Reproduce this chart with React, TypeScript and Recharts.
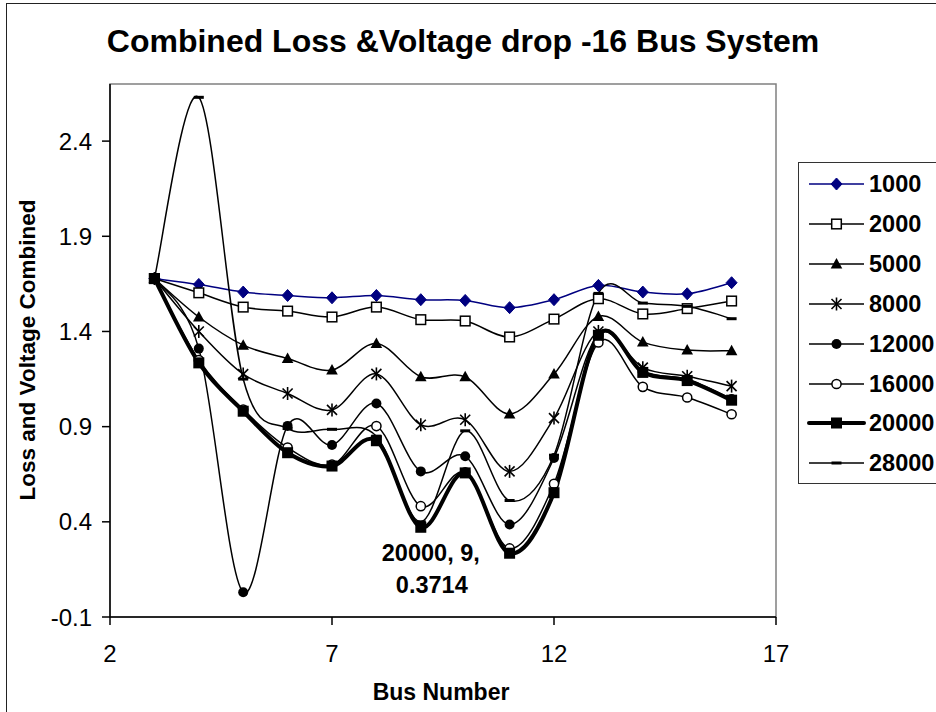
import React from 'react';
import { LineChart, Line, XAxis, YAxis, ReferenceArea, Legend, LabelList, Label } from 'recharts';

const FONT = '"Liberation Sans", Arial, Helvetica, sans-serif';

const BUSES = [3, 4, 5, 6, 7, 8, 9, 10, 11, 12, 13, 14, 15, 16];
const X_TICKS = [2, 7, 12, 17];
const Y_TICKS = [-0.1, 0.4, 0.9, 1.4, 1.9, 2.4];

const S1000 = [1.678, 1.647, 1.607, 1.589, 1.577, 1.589, 1.567, 1.563, 1.525, 1.567, 1.642, 1.607, 1.598, 1.656];
const S2000 = [1.678, 1.603, 1.528, 1.507, 1.476, 1.528, 1.462, 1.455, 1.371, 1.465, 1.572, 1.492, 1.52, 1.56];
const S5000 = [1.678, 1.476, 1.328, 1.258, 1.197, 1.337, 1.162, 1.162, 0.967, 1.176, 1.479, 1.344, 1.302, 1.299];
const S8000 = [1.678, 1.4, 1.176, 1.074, 0.988, 1.177, 0.91, 0.936, 0.665, 0.945, 1.4, 1.21, 1.165, 1.113];
const S12000 = [1.678, 1.31, 0.03, 0.904, 0.804, 1.022, 0.665, 0.744, 0.386, 0.735, 1.385, 1.19, 1.15, 1.045];
const S16000 = [1.678, 1.25, 0.99, 0.79, 0.7, 0.903, 0.482, 0.66, 0.26, 0.6, 1.342, 1.109, 1.053, 0.965];
const S20000 = [1.678, 1.235, 0.981, 0.763, 0.693, 0.826, 0.3714, 0.657, 0.235, 0.553, 1.38, 1.185, 1.142, 1.039];
const S28000 = [1.678, 2.63, 1.15, 0.89, 0.886, 0.85, 0.4, 0.878, 0.512, 0.75, 1.6, 1.549, 1.532, 1.467];

const LABEL_SERIES = '20000';
const LABEL_BUS = 9;

type Kind = 'diamond' | 'openSquare' | 'triangle' | 'star' | 'dot' | 'openCircle' | 'square' | 'dash';

const SERIES: { key: string; name: string; values: number[]; color: string; width: number; marker: Kind }[] = [
  { key: 's1000', name: '1000', values: S1000, color: '#000080', width: 1.5, marker: 'diamond' },
  { key: 's2000', name: '2000', values: S2000, color: '#000000', width: 1.5, marker: 'openSquare' },
  { key: 's5000', name: '5000', values: S5000, color: '#000000', width: 1.5, marker: 'triangle' },
  { key: 's8000', name: '8000', values: S8000, color: '#000000', width: 1.5, marker: 'star' },
  { key: 's12000', name: '12000', values: S12000, color: '#000000', width: 1.5, marker: 'dot' },
  { key: 's16000', name: '16000', values: S16000, color: '#000000', width: 1.5, marker: 'openCircle' },
  { key: 's20000', name: '20000', values: S20000, color: '#000000', width: 4, marker: 'square' },
  { key: 's28000', name: '28000', values: S28000, color: '#000000', width: 1.5, marker: 'dash' },
];

const data = BUSES.map((b, i) => {
  const row: any = { bus: b };
  SERIES.forEach((s) => {
    row[s.key] = s.values[i];
  });
  return row;
});

// Excel-like smoothed line (Catmull-Rom style Bezier)
function excelCurve(context: any) {
  let pts: [number, number][] = [];
  return {
    areaStart() {},
    areaEnd() {},
    lineStart() {
      pts = [];
    },
    point(x: number, y: number) {
      pts.push([+x, +y]);
    },
    lineEnd() {
      if (!pts.length) return;
      context.moveTo(pts[0][0], pts[0][1]);
      if (pts.length === 1) return;
      for (let i = 0; i < pts.length - 1; i++) {
        const p0 = pts[i - 1] || pts[i];
        const p1 = pts[i];
        const p2 = pts[i + 1];
        const p3 = pts[i + 2] || pts[i + 1];
        const c1x = p1[0] + (p2[0] - p0[0]) / 6;
        const c1y = p1[1] + (p2[1] - p0[1]) / 6;
        const c2x = p2[0] - (p3[0] - p1[0]) / 6;
        const c2y = p2[1] - (p3[1] - p1[1]) / 6;
        context.bezierCurveTo(c1x, c1y, c2x, c2y, p2[0], p2[1]);
      }
    },
  };
}

function Marker({ kind, cx, cy, color }: { kind: Kind; cx: number; cy: number; color: string }) {
  switch (kind) {
    case 'diamond':
      return <polygon points={`${cx},${cy - 6} ${cx + 5.5},${cy} ${cx},${cy + 6} ${cx - 5.5},${cy}`} fill={color} stroke={color} strokeWidth={1} />;
    case 'openSquare':
      return <rect x={cx - 4.8} y={cy - 4.8} width={9.6} height={9.6} fill="#fff" stroke="#000" strokeWidth={1.5} />;
    case 'triangle':
      return <polygon points={`${cx},${cy - 6} ${cx + 5.8},${cy + 4.5} ${cx - 5.8},${cy + 4.5}`} fill="#000" />;
    case 'star':
      return (
        <g stroke="#000" strokeWidth={1.6}>
          <line x1={cx - 5} y1={cy - 5} x2={cx + 5} y2={cy + 5} />
          <line x1={cx - 5} y1={cy + 5} x2={cx + 5} y2={cy - 5} />
          <line x1={cx} y1={cy - 6.5} x2={cx} y2={cy + 6.5} />
        </g>
      );
    case 'dot':
      return <circle cx={cx} cy={cy} r={5} fill="#000" />;
    case 'openCircle':
      return <circle cx={cx} cy={cy} r={4.6} fill="#fff" stroke="#000" strokeWidth={1.5} />;
    case 'square':
      return <rect x={cx - 5.5} y={cy - 5.5} width={11} height={11} fill="#000" />;
    case 'dash':
      return <rect x={cx - 5} y={cy - 1.5} width={10} height={3} fill="#000" />;
  }
  return null;
}

function LegendContent() {
  return (
    <div
      style={{
        width: 300,
        height: 322,
        borderLeft: '1px solid #333',
        borderTop: '1px solid #333',
        borderBottom: '1px solid #333',
        borderRight: 'none',
        background: '#fff',
        boxSizing: 'border-box',
        position: 'relative',
      }}
    >
      {SERIES.map((s, i) => (
        <div key={s.key} style={{ position: 'absolute', left: 0, top: 21 + i * 39.9 - 20, height: 40, width: 300 }}>
          <svg width={70} height={40} style={{ position: 'absolute', left: 0, top: 0 }}>
            <line x1={10} y1={20} x2={65} y2={20} stroke={s.color} strokeWidth={s.width} strokeLinecap={s.width > 2 ? 'round' : 'butt'} />
            <Marker kind={s.marker} cx={37.5} cy={20} color={s.color} />
          </svg>
          <span
            style={{
              position: 'absolute',
              left: 70,
              top: 0,
              lineHeight: '40px',
              fontFamily: FONT,
              fontWeight: 'bold',
              fontSize: 23.5,
              color: '#000',
              whiteSpace: 'nowrap',
            }}
          >
            {s.name}
          </span>
        </div>
      ))}
    </div>
  );
}

function PointLabel(props: any) {
  const { index, value } = props;
  const px = props.x ?? props.viewBox?.x;
  const py = props.y ?? props.viewBox?.y;
  if (BUSES[index] !== LABEL_BUS || px == null || py == null) return null;
  return (
    <g>
      <text x={px + 10} y={py + 34} textAnchor="middle" fontFamily={FONT} fontWeight="bold" fontSize={23.5} fill="#000">
        {`${LABEL_SERIES}, ${LABEL_BUS},`}
      </text>
      <text x={px + 11} y={py + 66} textAnchor="middle" fontFamily={FONT} fontWeight="bold" fontSize={23.5} fill="#000">
        {String(value)}
      </text>
    </g>
  );
}

export default function App() {
  return (
    <div style={{ position: 'absolute', left: 0, top: 0, width: 936, height: 712, overflow: 'hidden', background: '#fff' }}>
      <div
        style={{
          position: 'absolute',
          left: 6,
          top: 3,
          width: 1200,
          height: 1200,
          border: '1.5px solid #222',
          boxSizing: 'border-box',
        }}
      />
      <svg width={936} height={80} style={{ position: 'absolute', left: 0, top: 0 }}>
        <text x={463} y={52} textAnchor="middle" fontFamily={FONT} fontWeight="bold" fontSize={32} fill="#000">
          Combined Loss &amp;Voltage drop -16 Bus System
        </text>
      </svg>
      <div style={{ position: 'absolute', left: 0, top: 0 }}>
        <LineChart width={936} height={712} data={data} margin={{ top: 84, right: 160, bottom: 35, left: 10 }}>
          <ReferenceArea x1={2} x2={17} y1={-0.1} y2={2.7} fill="#fff" fillOpacity={1} stroke="#808080" strokeWidth={1.5} ifOverflow="visible" />
          <XAxis
            dataKey="bus"
            type="number"
            domain={[2, 17]}
            ticks={X_TICKS}
            allowDataOverflow
            height={60}
            tickSize={8}
            tickMargin={20}
            stroke="#000"
            strokeWidth={1.5}
            tick={{ fill: '#000', fontSize: 24, fontFamily: FONT }}
          >
            <Label
              content={() => (
                <text x={441} y={700} textAnchor="middle" fontFamily={FONT} fontWeight="bold" fontSize={23} fill="#000">
                  Bus Number
                </text>
              )}
            />
          </XAxis>
          <YAxis
            type="number"
            domain={[-0.1, 2.7]}
            ticks={Y_TICKS}
            allowDataOverflow
            width={100}
            tickSize={8}
            tickMargin={10}
            stroke="#000"
            strokeWidth={1.5}
            tickFormatter={(v: number) => String(v)}
            tick={{ fill: '#000', fontSize: 24, fontFamily: FONT }}
          >
            <Label
              content={() => (
                <text
                  x={35}
                  y={350}
                  transform="rotate(-90 35 350)"
                  textAnchor="middle"
                  fontFamily={FONT}
                  fontWeight="bold"
                  fontSize={22.5}
                  fill="#000"
                >
                  Loss and Voltage Combined
                </text>
              )}
            />
          </YAxis>
          <Legend
            layout="vertical"
            align="center"
            verticalAlign="middle"
            content={() => <LegendContent />}
            wrapperStyle={{ position: 'absolute', left: 798, top: 162, width: 300, height: 322 }}
          />
          {SERIES.map((s) => (
            <Line
              key={s.key}
              dataKey={s.key}
              name={s.name}
              type={excelCurve as any}
              stroke={s.color}
              strokeWidth={s.width}
              isAnimationActive={false}
              activeDot={false}
              dot={(p: any) => (
                <g key={`${s.key}-${p.index}`}>
                  <Marker kind={s.marker} cx={p.cx} cy={p.cy} color={s.color} />
                </g>
              )}
            >
              {s.name === LABEL_SERIES ? <LabelList dataKey={s.key} content={PointLabel} /> : null}
            </Line>
          ))}
        </LineChart>
      </div>
    </div>
  );
}
